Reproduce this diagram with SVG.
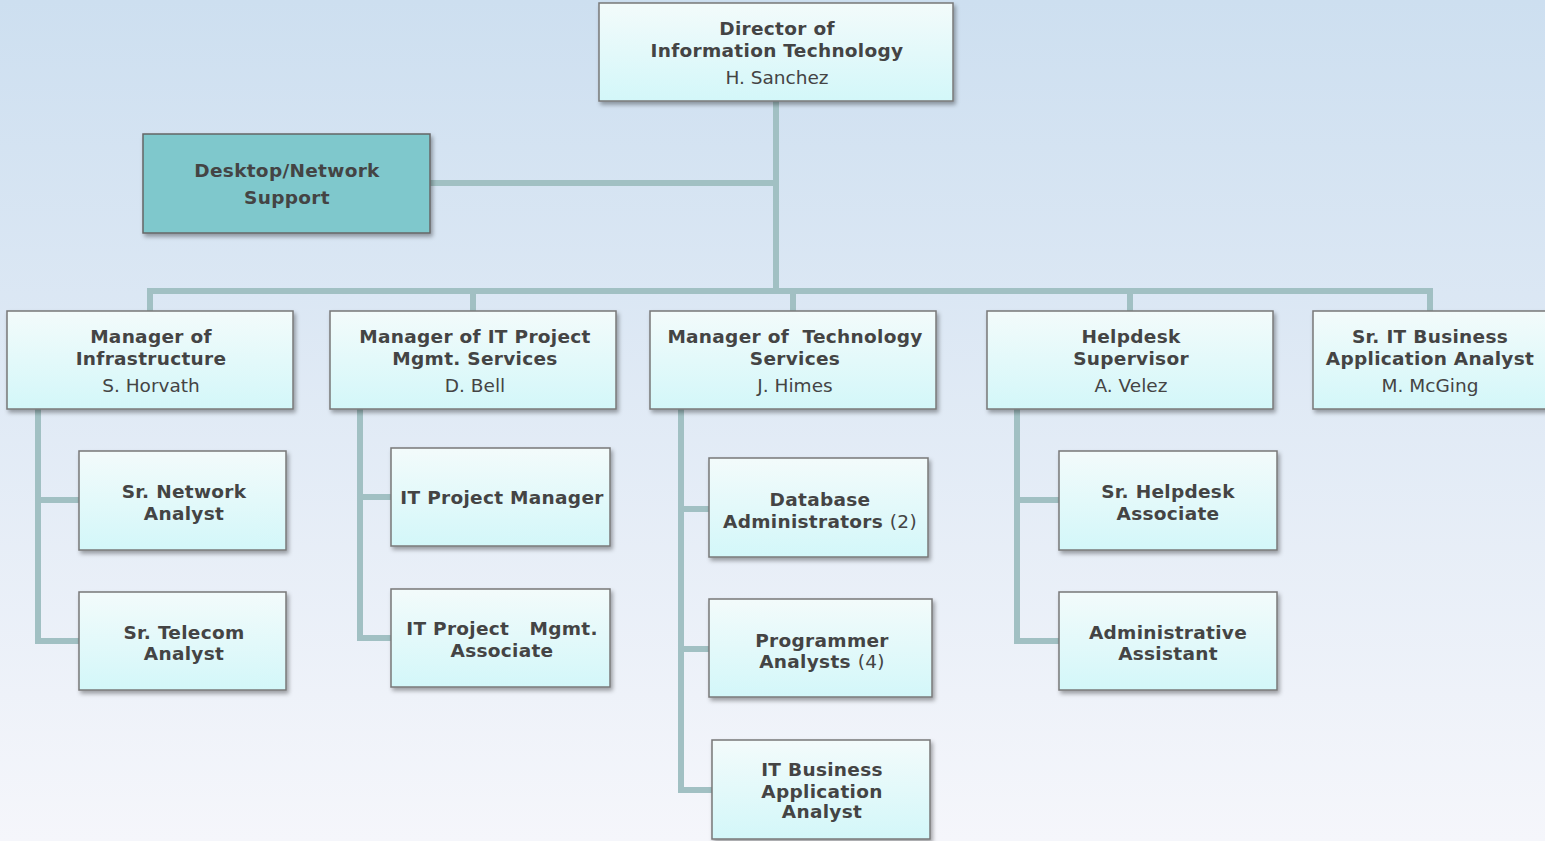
<svg xmlns="http://www.w3.org/2000/svg" width="1545" height="841" viewBox="0 0 1545 841">
<defs>
<linearGradient id="bg" x1="0" y1="0" x2="0" y2="1">
<stop offset="0" stop-color="#cddff0"/>
<stop offset="1" stop-color="#f5f6fb"/>
</linearGradient>
<linearGradient id="box" x1="0" y1="0" x2="0" y2="1">
<stop offset="0" stop-color="#f3fbfb"/>
<stop offset="1" stop-color="#d3f7f9"/>
</linearGradient>
<filter id="sh" x="-10%" y="-10%" width="125%" height="130%">
<feDropShadow dx="2" dy="3" stdDeviation="2" flood-color="#000" flood-opacity="0.35"/>
</filter>
<style>
.b{fill:url(#box);stroke:#787878;stroke-width:1.5;filter:url(#sh)}
.t{fill:#7fc8cc;stroke:#666;stroke-width:1.5;filter:url(#sh)}
text{font-family:"DejaVu Sans","Verdana",sans-serif;font-size:18.5px;fill:#444;text-anchor:middle}
.h{font-weight:bold;letter-spacing:0.3px}
.n{font-weight:normal}
.c{fill:none;stroke:#a1c0c3;stroke-width:6;stroke-linejoin:miter}
</style>
</defs>
<rect width="1545" height="841" fill="url(#bg)"/>
<g id="connectors">
<path class="c" d="M776 101 V291 M430 183 H776 M150 311 V291 H1430 V311 M473 291 V311 M793 291 V311 M1130 291 V311"/>
<path class="c" d="M38 409 V641 H79 M38 500 H79"/>
<path class="c" d="M360 409 V638 H391 M360 497 H391"/>
<path class="c" d="M681 409 V790 H712 M681 509 H709 M681 649 H709"/>
<path class="c" d="M1017 409 V641 H1059 M1017 500 H1059"/>
</g>
<g id="director">
<rect class="b" x="599" y="3" width="354" height="98"/>
<text class="h" x="777" y="35">Director of</text>
<text class="h" x="777" y="57">Information Technology</text>
<text x="777" y="84">H. Sanchez</text>
</g>
<g id="desktop">
<rect class="t" x="143" y="134" width="287" height="99"/>
<text class="h" x="287" y="177">Desktop/Network</text>
<text class="h" x="287" y="204">Support</text>
</g>
<g id="mgr-infra">
<rect class="b" x="7" y="311" width="286" height="98"/>
<text class="h" x="151" y="343">Manager of</text>
<text class="h" x="151" y="365">Infrastructure</text>
<text x="151" y="392">S. Horvath</text>
</g>
<g id="mgr-itpm">
<rect class="b" x="330" y="311" width="286" height="98"/>
<text class="h" x="475" y="343">Manager of IT Project</text>
<text class="h" x="475" y="365">Mgmt. Services</text>
<text x="475" y="392">D. Bell</text>
</g>
<g id="mgr-tech">
<rect class="b" x="650" y="311" width="286" height="98"/>
<text class="h" x="795" y="343" xml:space="preserve">Manager of  Technology</text>
<text class="h" x="795" y="365">Services</text>
<text x="795" y="392">J. Himes</text>
</g>
<g id="helpdesk-sup">
<rect class="b" x="987" y="311" width="286" height="98"/>
<text class="h" x="1131" y="343">Helpdesk</text>
<text class="h" x="1131" y="365">Supervisor</text>
<text x="1131" y="392">A. Velez</text>
</g>
<g id="sr-it-baa">
<rect class="b" x="1313" y="311" width="240" height="98"/>
<text class="h" x="1430" y="343">Sr. IT Business</text>
<text class="h" x="1430" y="365">Application Analyst</text>
<text x="1430" y="392">M. McGing</text>
</g>
<g id="sr-network">
<rect class="b" x="79" y="451" width="207" height="99"/>
<text class="h" x="184" y="498">Sr. Network</text>
<text class="h" x="184" y="520">Analyst</text>
</g>
<g id="sr-telecom">
<rect class="b" x="79" y="592" width="207" height="98"/>
<text class="h" x="184" y="639">Sr. Telecom</text>
<text class="h" x="184" y="660">Analyst</text>
</g>
<g id="it-pm">
<rect class="b" x="391" y="448" width="219" height="98"/>
<text class="h" x="502" y="504">IT Project Manager</text>
</g>
<g id="it-pm-assoc">
<rect class="b" x="391" y="589" width="219" height="98"/>
<text class="h" x="502" y="635" xml:space="preserve">IT Project   Mgmt.</text>
<text class="h" x="502" y="657">Associate</text>
</g>
<g id="dba">
<rect class="b" x="709" y="458" width="219" height="99"/>
<text class="h" x="820" y="506">Database</text>
<text class="h" x="820" y="528">Administrators <tspan class="n">(2)</tspan></text>
</g>
<g id="programmers">
<rect class="b" x="709" y="599" width="223" height="98"/>
<text class="h" x="822" y="647">Programmer</text>
<text class="h" x="822" y="668">Analysts <tspan class="n">(4)</tspan></text>
</g>
<g id="it-baa">
<rect class="b" x="712" y="740" width="218" height="99"/>
<text class="h" x="822" y="776">IT Business</text>
<text class="h" x="822" y="798">Application</text>
<text class="h" x="822" y="818">Analyst</text>
</g>
<g id="sr-helpdesk">
<rect class="b" x="1059" y="451" width="218" height="99"/>
<text class="h" x="1168" y="498">Sr. Helpdesk</text>
<text class="h" x="1168" y="520">Associate</text>
</g>
<g id="admin-asst">
<rect class="b" x="1059" y="592" width="218" height="98"/>
<text class="h" x="1168" y="639">Administrative</text>
<text class="h" x="1168" y="660">Assistant</text>
</g>
</svg>
